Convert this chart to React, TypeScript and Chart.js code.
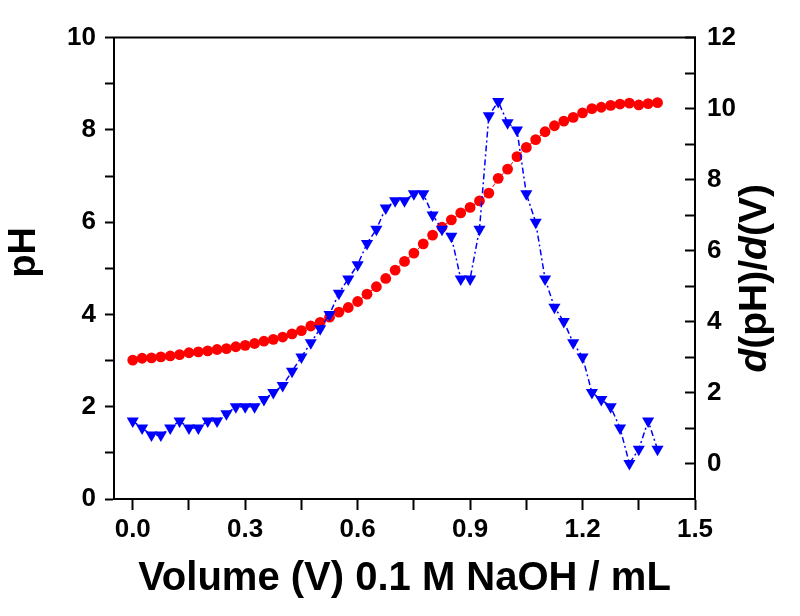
import React, { useEffect, useRef } from "react";
import { Chart, registerables } from "chart.js";

Chart.register(...registerables);

// ---- data ----
const volumes = [
  0, 0.025, 0.05, 0.075, 0.1, 0.125, 0.15, 0.175, 0.2, 0.225,
  0.25, 0.275, 0.3, 0.325, 0.35, 0.375, 0.4, 0.425, 0.45, 0.475,
  0.5, 0.525, 0.55, 0.575, 0.6, 0.625, 0.65, 0.675, 0.7, 0.725,
  0.75, 0.775, 0.8, 0.825, 0.85, 0.875, 0.9, 0.925, 0.95, 0.975,
  1.0, 1.025, 1.05, 1.075, 1.1, 1.125, 1.15, 1.175, 1.2, 1.225,
  1.25, 1.275, 1.3, 1.325, 1.35, 1.375, 1.4,
];

const pHValues = [
  3.01, 3.05, 3.06, 3.08, 3.1, 3.13, 3.17, 3.19, 3.21, 3.24,
  3.26, 3.3, 3.33, 3.37, 3.42, 3.46, 3.51, 3.58, 3.65, 3.75,
  3.83, 3.94, 4.05, 4.15, 4.28, 4.44, 4.6, 4.78, 4.96, 5.15,
  5.33, 5.53, 5.72, 5.89, 6.05, 6.2, 6.32, 6.46, 6.63, 6.95,
  7.15, 7.42, 7.62, 7.79, 7.96, 8.09, 8.19, 8.27, 8.37, 8.46,
  8.49, 8.53, 8.56, 8.58, 8.54, 8.57, 8.59,
];

const derivValues = [
  1.2, 1.0, 0.8, 0.8, 1.0, 1.2, 1.0, 1.0, 1.2, 1.2,
  1.4, 1.6, 1.6, 1.6, 1.8, 2.0, 2.2, 2.6, 3.0, 3.4,
  3.8, 4.2, 4.8, 5.2, 5.6, 6.2, 6.6, 7.2, 7.4, 7.4,
  7.6, 7.6, 7.0, 6.6, 6.4, 5.2, 5.2, 6.6, 9.8, 10.2,
  9.6, 9.4, 7.6, 6.8, 5.2, 4.4, 4.0, 3.4, 3.0, 2.0,
  1.8, 1.6, 1.0, 0.0, 0.4, 1.2, 0.4,
];

const xTickValues = [0, 0.15, 0.3, 0.45, 0.6, 0.75, 0.9, 1.05, 1.2, 1.35, 1.5];
const xTickLabels = ["0.0", "", "0.3", "", "0.6", "", "0.9", "", "1.2", "", "1.5"];
const leftTickValues = [0, 1, 2, 3, 4, 5, 6, 7, 8, 9, 10];
const leftTickLabels = ["0", "", "2", "", "4", "", "6", "", "8", "", "10"];
const rightTickValues = [0, 1, 2, 3, 4, 5, 6, 7, 8, 9, 10, 11, 12];
const rightTickLabels = ["0", "", "2", "", "4", "", "6", "", "8", "", "10", "", "12"];

const xTitle = "Volume (V) 0.1 M NaOH / mL";
const leftTitle = "pH";
const rightTitleParts = [
  { text: "d", italic: true },
  { text: "(pH)/", italic: false },
  { text: "d", italic: true },
  { text: "(V)", italic: false },
];

const FONT = '"Liberation Sans", Arial, Helvetica, sans-serif';

const framePlugin = {
  id: "frameAndTitles",
  afterDraw(chart: any) {
    const { ctx, chartArea } = chart;
    ctx.save();
    ctx.strokeStyle = "#000";
    ctx.lineWidth = 2;
    ctx.beginPath();
    ctx.moveTo(chartArea.left - 1, chartArea.top);
    ctx.lineTo(chartArea.right + 1, chartArea.top);
    ctx.stroke();

    const midY = (chartArea.top + chartArea.bottom) / 2;
    ctx.fillStyle = "#000";
    ctx.textBaseline = "middle";

    // left title
    ctx.save();
    ctx.translate(25, midY - 16);
    ctx.rotate(-Math.PI / 2);
    ctx.textAlign = "center";
    ctx.font = `bold 38px ${FONT}`;
    ctx.fillText(leftTitle, 0, 0);
    ctx.restore();

    // right title with italic d
    ctx.save();
    ctx.translate(chartArea.right + 60, midY + 10);
    ctx.rotate(-Math.PI / 2);
    ctx.textAlign = "left";
    const fontFor = (it: boolean) => `${it ? "italic " : ""}bold 39px ${FONT}`;
    let total = 0;
    const widths = rightTitleParts.map((p) => {
      ctx.font = fontFor(p.italic);
      const w = ctx.measureText(p.text).width;
      total += w;
      return w;
    });
    let x = -total / 2;
    rightTitleParts.forEach((p, i) => {
      ctx.font = fontFor(p.italic);
      ctx.fillText(p.text, x, 0);
      x += widths[i];
    });
    ctx.restore();

    ctx.restore();
  },
};

export default function App() {
  const canvasRef = useRef<HTMLCanvasElement | null>(null);

  useEffect(() => {
    document.body.style.margin = "0";
    const canvas = canvasRef.current;
    if (!canvas) return;

    const tickFont = { family: FONT, size: 26, weight: "bold" as const };

    const chart = new Chart(canvas, {
      type: "line",
      data: {
        datasets: [
          {
            label: "dpH/dV",
            data: volumes.map((v, i) => ({ x: v, y: derivValues[i] })),
            yAxisID: "y2",
            borderColor: "#0000ff",
            backgroundColor: "#0000ff",
            borderWidth: 1.5,
            borderDash: [6, 3, 2, 3],
            pointStyle: "triangle",
            rotation: 180,
            pointRadius: 7,
            pointBorderWidth: 0,
            pointBackgroundColor: "#0000ff",
            order: 0,
          },
          {
            label: "pH",
            data: volumes.map((v, i) => ({ x: v, y: pHValues[i] })),
            yAxisID: "y",
            borderColor: "#ff0000",
            backgroundColor: "#ff0000",
            borderWidth: 1,
            borderDash: [4, 3],
            pointStyle: "circle",
            pointRadius: 5.4,
            pointBorderWidth: 0,
            pointBackgroundColor: "#ff0000",
            order: 1,
          },
        ],
      },
      options: {
        responsive: false,
        animation: false,
        devicePixelRatio: 1,
        layout: { padding: { top: 32, left: 0, right: 0, bottom: 0 } },
        plugins: {
          legend: { display: false },
          tooltip: { enabled: false },
        },
        scales: {
          x: {
            type: "linear",
            position: "bottom",
            min: -0.05,
            max: 1.5,
            afterBuildTicks: (s: any) => {
              s.ticks = xTickValues.map((v) => ({ value: v }));
            },
            afterFit: (s: any) => {
              s.height = 117;
            },
            ticks: {
              autoSkip: false,
              maxRotation: 0,
              color: "#000",
              font: tickFont,
              padding: 4,
              callback: (_v: any, i: number) => xTickLabels[i],
            },
            grid: {
              drawOnChartArea: false,
              drawTicks: true,
              tickLength: 11,
              tickWidth: 2,
              tickColor: "#000",
            },
            border: { display: true, color: "#000", width: 2 },
            title: {
              display: true,
              text: xTitle,
              color: "#000",
              font: { family: FONT, size: 40, weight: "bold" },
              padding: { top: 0, bottom: 13 },
            },
          },
          y: {
            type: "linear",
            position: "left",
            min: 0,
            max: 10,
            afterBuildTicks: (s: any) => {
              s.ticks = leftTickValues.map((v) => ({ value: v }));
            },
            afterFit: (s: any) => {
              s.width = 114;
            },
            ticks: {
              autoSkip: false,
              color: "#000",
              font: tickFont,
              padding: 9,
              callback: (_v: any, i: number) => leftTickLabels[i],
            },
            grid: {
              drawOnChartArea: false,
              drawTicks: true,
              tickLength: 9,
              tickWidth: 2,
              tickColor: "#000",
            },
            border: { display: true, color: "#000", width: 2 },
          },
          y2: {
            type: "linear",
            position: "right",
            min: -1,
            max: 12,
            afterBuildTicks: (s: any) => {
              s.ticks = rightTickValues.map((v) => ({ value: v }));
            },
            afterFit: (s: any) => {
              s.width = 105;
            },
            ticks: {
              autoSkip: false,
              color: "#000",
              font: tickFont,
              padding: 22,
              callback: (_v: any, i: number) => rightTickLabels[i],
            },
            grid: {
              drawOnChartArea: false,
              drawTicks: true,
              tickLength: -10,
              tickWidth: 2,
              tickColor: "#000",
            },
            border: { display: true, color: "#000", width: 2 },
          },
        },
      },
      plugins: [framePlugin],
    });

    return () => chart.destroy();
  }, []);

  return (
    <div style={{ width: 800, height: 616, background: "#fff" }}>
      <canvas ref={canvasRef} width={800} height={616} />
    </div>
  );
}
